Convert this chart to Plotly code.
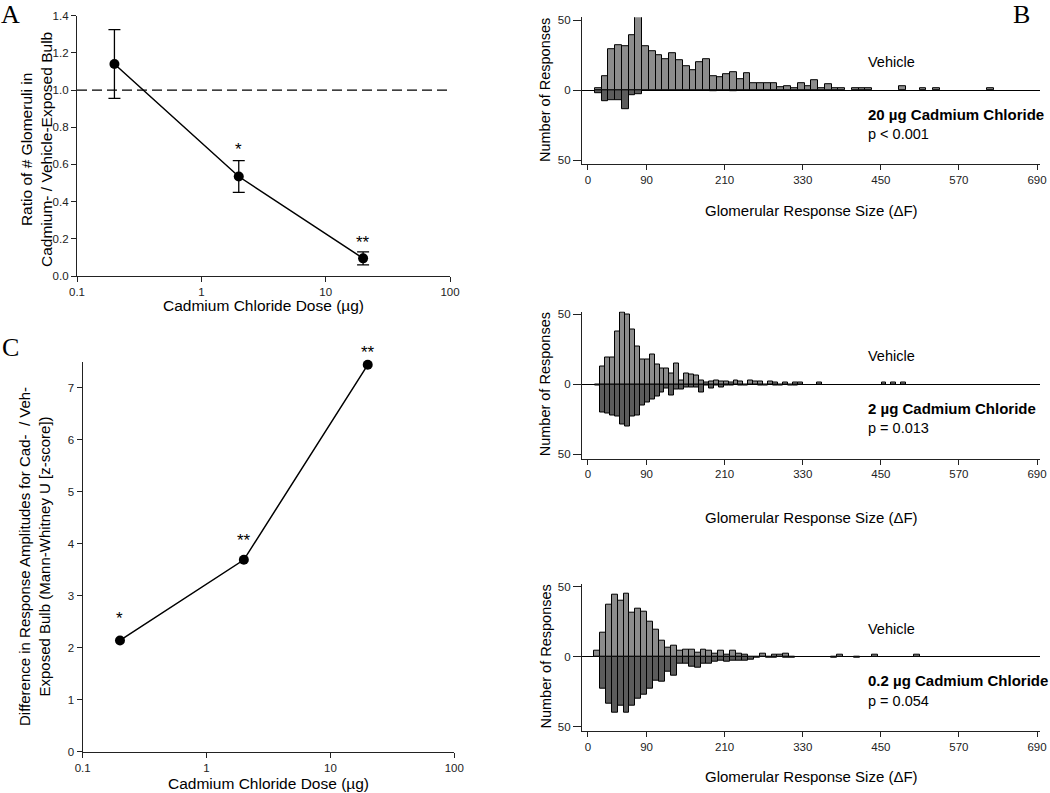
import math
import plotly.graph_objects as go

# ---------------- DATA ----------------
# Panel A: ratio of glomeruli counts vs dose
doses = [0.2, 2, 20]
ratio = [1.14, 0.535, 0.095]
ratio_err = [0.185, 0.085, 0.035]
ratio_sig = ["", "*", "**"]
reference_ratio = 1.0

# Panel C: Mann-Whitney z-score vs dose
zscore = [2.14, 3.69, 7.44]
z_sig = ["*", "**", "**"]

# Panel B histograms (counts per bin), first bin left edge + bin width
b20_start, b20_width = 10.4, 10.4
veh20 = [1, 10, 29, 32, 31, 39, 53, 31, 28, 25, 22, 26, 21, 17, 14, 20, 22, 10, 9, 11,
         13, 8, 12, 5, 5, 5, 5, 2, 3, 1, 5, 3, 7, 1, 4, 1, 1, 0, 1, 1,
         1, 0, 0, 0, 0, 3, 0, 0, 1, 0, 1, 0, 0, 0, 0, 0, 0, 0, 1]
cad20 = [2, 8, 7, 7, 14, 4, 3, 0, 0, 0, 0, 0, 0, 0, 0, 0, 0, 1, 0, 0,
         1]

b2_start, b2_width = 11.4, 7.58
veh2 = [0, 13, 19, 19, 38, 51, 50, 39, 27, 18, 18, 21, 14, 11, 11, 8, 15, 3, 8, 7,
        6, 3, 1, 2, 3, 2, 2, 1, 3, 2, 0, 3, 2, 2, 0, 2, 1, 0, 1, 0,
        1, 1, 0, 0, 0, 1, 0, 0, 0, 0, 0, 0, 0, 0, 0, 0, 0, 0, 1, 0,
        1, 0, 1]
cad2 = [1, 20, 21, 22, 23, 29, 30, 23, 22, 15, 13, 11, 9, 6, 3, 8, 4, 4, 2, 2,
        2, 6, 1, 3, 1, 2, 1, 1, 0, 1, 1, 0, 0, 1, 1, 0, 1, 1, 0, 1,
        1]

b02_start, b02_width = 9.1, 9.1
veh02 = [4, 17, 37, 44, 40, 45, 31, 34, 32, 25, 19, 11, 6, 8, 4, 5, 5, 3, 5, 4,
         2, 4, 1, 4, 2, 1, 0, 0, 2, 0, 1, 1, 2, 0, 0, 0, 0, 0, 0, 0,
         0, 1, 0, 0, 0, 0, 0, 1, 0, 0, 0, 0, 0, 0, 1]
cad02 = [0, 23, 34, 40, 35, 40, 35, 30, 27, 23, 17, 18, 11, 14, 5, 5, 7, 8, 5, 5,
         4, 3, 4, 3, 3, 3, 2, 1, 0, 1, 1, 0, 1, 1, 0, 0, 0, 0, 0, 0,
         1, 0, 0, 0, 1]

hist_xticks = [0, 90, 210, 330, 450, 570, 690]
hist_yticks = [-50, 0, 50]
hist_yticktext = ["50", "0", "50"]
dose_ticks = [0.1, 1, 10, 100]
dose_ticktext = ["0.1", "1", "10", "100"]
ratio_ticks = [0, 0.2, 0.4, 0.6, 0.8, 1.0, 1.2, 1.4]
z_ticks = [0, 1, 2, 3, 4, 5, 6, 7]

panels_b = [
    ("20 µg Cadmium Chloride", "p < 0.001", b20_start, b20_width, veh20, cad20),
    ("2 µg Cadmium Chloride", "p = 0.013", b2_start, b2_width, veh2, cad2),
    ("0.2 µg Cadmium Chloride", "p = 0.054", b02_start, b02_width, veh02, cad02),
]

# ---------------- LAYOUT HELPERS ----------------
W, H = 1050, 793
def fx(px):
    return px / W
def fy(py):
    return 1 - py / H

FONT = "Liberation Sans, Arial, Helvetica, sans-serif"
SERIF = "Liberation Serif, Times New Roman, serif"
AX = "#222222"
VEH_COLOR = "#8c8c8c"
CAD_COLOR = "#5c5c5c"

fig = go.Figure()

# Panel A
fig.add_trace(go.Scatter(
    x=doses, y=ratio, mode="lines+markers", xaxis="x", yaxis="y",
    line=dict(color="black", width=1.5),
    marker=dict(color="black", size=10),
    error_y=dict(type="data", array=ratio_err, visible=True, color="black",
                 thickness=1.3, width=6),
    showlegend=False))

# Panel C
fig.add_trace(go.Scatter(
    x=doses, y=zscore, mode="lines+markers", xaxis="x2", yaxis="y2",
    line=dict(color="black", width=1.5),
    marker=dict(color="black", size=10),
    showlegend=False, cliponaxis=False))

# Panel B histograms
for n, (label, ptxt, start, width, veh, cad) in enumerate(panels_b):
    ax = n + 3
    vx = [start + width * (i + 0.5) for i, v in enumerate(veh) if v > 0]
    vy = [v for v in veh if v > 0]
    cx = [start + width * (i + 0.5) for i, v in enumerate(cad) if v > 0]
    cy = [-v for v in cad if v > 0]
    fig.add_trace(go.Bar(x=cx, y=cy, width=width, xaxis=f"x{ax}", yaxis=f"y{ax}",
                         marker=dict(color=CAD_COLOR, line=dict(color="black", width=1)),
                         showlegend=False))
    fig.add_trace(go.Bar(x=vx, y=vy, width=width, xaxis=f"x{ax}", yaxis=f"y{ax}",
                         marker=dict(color=VEH_COLOR, line=dict(color="black", width=1)),
                         showlegend=False))

axis_common = dict(showline=True, linecolor=AX, linewidth=1.3, ticks="outside",
                   tickcolor=AX, tickwidth=1, ticklen=5, showgrid=False,
                   zeroline=False, automargin=False,
                   tickfont=dict(family=FONT, size=11.5, color=AX))

layout = dict(
    width=W, height=H, autosize=False,
    margin=dict(l=0, r=0, t=0, b=0, pad=0),
    paper_bgcolor="white", plot_bgcolor="white",
    barmode="overlay", bargap=0,
    font=dict(family=FONT, color=AX),
    xaxis=dict(domain=[fx(77), fx(450)], anchor="y", type="log", range=[-1, 2],
               tickvals=dose_ticks, ticktext=dose_ticktext, **axis_common),
    yaxis=dict(domain=[fy(276), fy(15.7)], anchor="x", range=[0, 1.4],
               tickvals=ratio_ticks, ticktext=[f"{v:.1f}" for v in ratio_ticks],
               **axis_common),
    xaxis2=dict(domain=[fx(82.7), fx(454.3)], anchor="y2", type="log", range=[-1, 2],
                tickvals=dose_ticks, ticktext=dose_ticktext, **axis_common),
    yaxis2=dict(domain=[fy(751.7), fy(361.7)], anchor="x2", range=[0, 7.5],
                tickvals=z_ticks, **axis_common),
)

zero_px = [90, 384.3, 656.5]
for n, z in enumerate(zero_px):
    ax = n + 3
    layout[f"xaxis{ax}"] = dict(domain=[fx(582), fx(1040)], anchor=f"y{ax}",
                                range=[-9.2, 694.6], tickvals=hist_xticks, **axis_common)
    yb = dict(axis_common)
    yb["zeroline"] = True
    yb["ticklen"] = 8
    layout[f"yaxis{ax}"] = dict(domain=[fy(z + 74.2), fy(z - 72.8)], anchor=f"x{ax}",
                                range=[-53, 52], tickvals=hist_yticks,
                                ticktext=hist_yticktext, zerolinecolor="black",
                                zerolinewidth=1, **yb)

fig.update_layout(**layout)

# reference dashed line in A
fig.add_shape(type="line", xref="x domain", x0=0, x1=1, yref="y",
              y0=reference_ratio, y1=reference_ratio,
              line=dict(color="black", width=1.2, dash="10px,5px"))

ann = []
def text(x, y, s, size=15, anchor="center", angle=0, family=FONT, bold=False):
    if bold:
        s = f"<b>{s}</b>"
    ann.append(dict(x=fx(x), y=fy(y), xref="paper", yref="paper", text=s,
                    showarrow=False, xanchor=anchor, yanchor="middle", align="center",
                    textangle=angle, font=dict(family=family, size=size, color="black")))

# Panel letters
text(10, 15, "A", size=26, family=SERIF)
text(1021, 15, "B", size=26, family=SERIF)
text(10, 348, "C", size=26, family=SERIF)

# Axis titles A
text(36, 150, "Ratio of # Glomeruli in<br>Cadmium- / Vehicle-Exposed Bulb",
     angle=-90, size=15.5)
text(263, 305, "Cadmium Chloride Dose (µg)", size=15.5)
# Axis titles C
text(34, 557, "Difference in Response Amplitudes for Cad-  / Veh-<br>"
     "Exposed Bulb (Mann-Whitney U [z-score])", angle=-90, size=15)
text(268, 783, "Cadmium Chloride Dose (µg)", size=15.5)

# Panel B texts
title_y = [211, 517, 776]
for n, (label, ptxt, *_rest) in enumerate(panels_b):
    z = zero_px[n]
    text(545, z, "Number of Responses", angle=-90, size=14.5)
    text(811, title_y[n], "Glomerular Response Size (ΔF)", size=15)
    text(866, z - 28, "Vehicle", anchor="left", size=14.5)
    text(866, z + 24, label, anchor="left", bold=True, size=15)
    text(866, z + 44, ptxt, anchor="left", size=14.5)

# Significance stars
star_shift_a = [0, 11, 9]
for d, v, e, s, sh in zip(doses, ratio, ratio_err, ratio_sig, star_shift_a):
    if s:
        ann.append(dict(x=math.log10(d), y=v + e, xref="x", yref="y",
                        text=s, showarrow=False, yanchor="middle", yshift=sh,
                        font=dict(family=FONT, size=17, color="black")))
star_shift_c = [22, 19, 12]
for d, v, s, sh in zip(doses, zscore, z_sig, star_shift_c):
    ann.append(dict(x=math.log10(d), y=v, xref="x2", yref="y2",
                    text=s, showarrow=False, yanchor="middle", yshift=sh,
                    font=dict(family=FONT, size=17, color="black")))

fig.update_layout(annotations=ann)
fig.write_html(
    "out.html",
    config={"displayModeBar": False},
    post_script="document.body.style.margin='0px';document.body.style.overflow='hidden';",
)
